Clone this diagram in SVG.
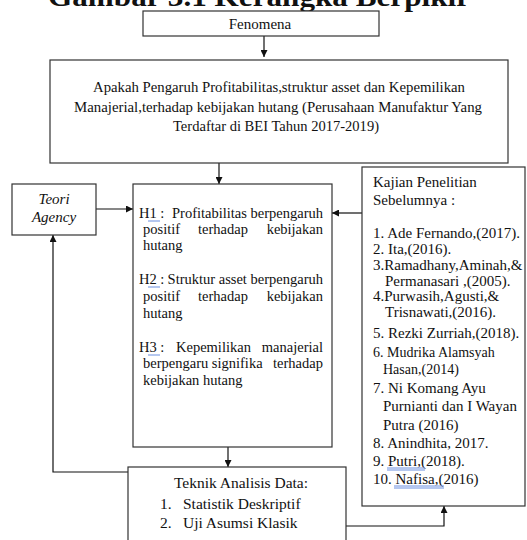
<svg xmlns="http://www.w3.org/2000/svg" width="527" height="540" viewBox="0 0 527 540">
<style>
.box{fill:#fff;stroke:#333;stroke-width:1.2}
.t{font-family:"Liberation Serif",serif;font-size:14.5px;fill:#111}
.c{text-anchor:middle}
.e{text-anchor:end}
.i{font-style:italic}
.ln{fill:none;stroke:#111;stroke-width:1.2}
.sp{fill:none;stroke:#6a8fe0;stroke-width:1}
</style>
<defs>
<marker id="ah" viewBox="0 0 10 10" refX="10" refY="5" markerWidth="7" markerHeight="7" markerUnits="userSpaceOnUse" orient="auto">
<path d="M0,0 L10,5 L0,10 z" fill="#111"/>
</marker>
</defs>
<rect width="527" height="540" fill="#fff"/>
<g font-family="Liberation Serif, serif">
<text x="259" y="6" class="t c" style="font-size:28px;font-weight:bold" textLength="422" lengthAdjust="spacingAndGlyphs">Gambar 3.1 Kerangka Berpikir</text>

<g id="connectors">
<path class="ln" d="M264,36 V57" marker-end="url(#ah)"/>
<path class="ln" d="M219,163 V184" marker-end="url(#ah)"/>
<path class="ln" d="M96,209 H133" marker-end="url(#ah)"/>
<path class="ln" d="M362,213 H332" marker-end="url(#ah)"/>
<path class="ln" d="M228,447 V467" marker-end="url(#ah)"/>
<path class="ln" d="M128,472 H53 V235" marker-end="url(#ah)"/>
<path class="ln" d="M346,526 H444 V506" marker-end="url(#ah)"/>
</g>

<g id="fenomena">
<rect class="box" x="143" y="11" width="236" height="25"/>
<text x="260" y="29" class="t c" style="font-size:15px">Fenomena</text>
</g>

<g id="rumusan">
<rect class="box" x="50" y="60" width="458" height="103"/>
<text x="279" y="92" class="t c" textLength="372" lengthAdjust="spacingAndGlyphs">Apakah Pengaruh Profitabilitas,struktur asset dan Kepemilikan</text>
<text x="278" y="112" class="t c" textLength="408" lengthAdjust="spacingAndGlyphs">Manajerial,terhadap kebijakan hutang (Perusahaan Manufaktur Yang</text>
<text x="276" y="131" class="t c" textLength="206" lengthAdjust="spacingAndGlyphs">Terdaftar di BEI Tahun 2017-2019)</text>
</g>

<g id="teori">
<rect class="box" x="12" y="184" width="84" height="51"/>
<text x="54" y="204" class="t c i" style="font-size:15px">Teori</text>
<text x="54" y="222" class="t c i" style="font-size:15px">Agency</text>
</g>

<g id="hipotesis">
<rect class="box" x="133" y="184" width="199" height="263"/>
<text x="139" y="218" class="t">H1 :</text>
<text x="323" y="218" class="t e">Profitabilitas berpengaruh</text>
<text x="143" y="234" class="t">positif</text>
<text x="198" y="234" class="t">terhadap</text>
<text x="323" y="234" class="t e">kebijakan</text>
<text x="143" y="250" class="t">hutang</text>
<text x="139" y="284" class="t">H2 :</text>
<text x="323" y="284" class="t e">Struktur asset berpengaruh</text>
<text x="143" y="301" class="t">positif</text>
<text x="198" y="301" class="t">terhadap</text>
<text x="323" y="301" class="t e">kebijakan</text>
<text x="143" y="318" class="t">hutang</text>
<text x="139" y="352" class="t">H3 :</text>
<text x="176" y="352" class="t">Kepemilikan</text>
<text x="323" y="352" class="t e">manajerial</text>
<text x="143" y="368" class="t">berpengaru signifika</text>
<text x="323" y="368" class="t e">terhadap</text>
<text x="143" y="385" class="t">kebijakan hutang</text>
<path class="sp" d="M148,221 H160 M148,287 H160 M148,355 H160"/>
</g>

<g id="kajian">
<rect class="box" x="362" y="167" width="163" height="339"/>
<text x="373" y="187" class="t" style="font-size:15px">Kajian Penelitian</text>
<text x="373" y="205" class="t" style="font-size:15px">Sebelumnya :</text>
<text x="373" y="238" class="t" style="font-size:15px">1. Ade Fernando,(2017).</text>
<text x="373" y="254" class="t" style="font-size:15px">2. Ita,(2016).</text>
<text x="373" y="270" class="t" style="font-size:15px">3.Ramadhany,Aminah,&amp;</text>
<text x="385" y="286" class="t" style="font-size:15px">Permanasari ,(2005).</text>
<text x="373" y="301" class="t" style="font-size:15px">4.Purwasih,Agusti,&amp;</text>
<text x="385" y="317" class="t" style="font-size:15px">Trisnawati,(2016).</text>
<text x="373" y="338" class="t" style="font-size:15px">5. Rezki Zurriah,(2018).</text>
<text x="373" y="357" class="t" style="font-size:14px">6. Mudrika Alamsyah</text>
<text x="383" y="374" class="t" style="font-size:14px">Hasan,(2014)</text>
<text x="373" y="393" class="t" style="font-size:15px">7. Ni Komang Ayu</text>
<text x="383" y="411" class="t" style="font-size:15px">Purnianti dan I Wayan</text>
<text x="383" y="430" class="t" style="font-size:15px">Putra (2016)</text>
<text x="373" y="448" class="t" style="font-size:15px">8. Anindhita, 2017.</text>
<text x="373" y="466" class="t" style="font-size:15px">9. Putri,(2018).</text>
<text x="373" y="484" class="t" style="font-size:15px">10. Nafisa,(2016)</text>
<path class="sp" d="M387,468 H425 M387,470 H425 M394,486 H444 M394,488 H444"/>
</g>

<g id="teknik">
<rect class="box" x="128" y="467" width="218" height="80"/>
<text x="241" y="488" class="t c" style="font-size:15.5px">Teknik Analisis Data:</text>
<text x="160" y="509" class="t" style="font-size:15.5px">1.</text>
<text x="183" y="509" class="t" style="font-size:15.5px">Statistik Deskriptif</text>
<text x="160" y="528" class="t" style="font-size:15.5px">2.</text>
<text x="183" y="528" class="t" style="font-size:15.5px">Uji Asumsi Klasik</text>
</g>
</g>
</svg>
